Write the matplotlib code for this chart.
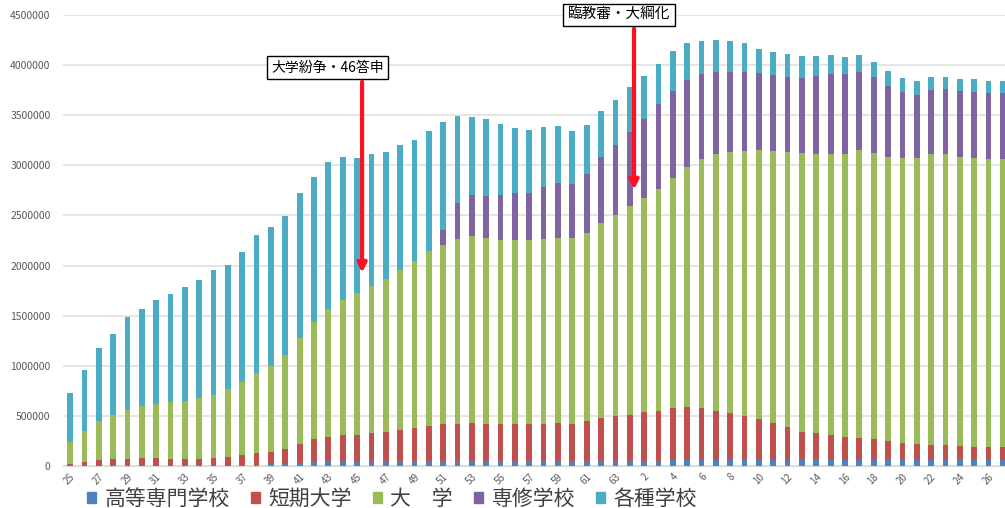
import matplotlib

matplotlib.use("Agg")
import matplotlib.pyplot as plt
import matplotlib.patches as mpatches
import numpy as np

plt.rcParams["font.family"] = ["Noto Sans CJK JP", "DejaVu Sans"]

# Year labels: Showa 25-63, then Heisei 1-27
showa = list(range(25, 64))
heisei = list(range(1, 28))
years = [str(y) for y in showa] + [str(y) for y in heisei]

# Enrollment per school type (thousands)
kosen = [0] * 12 + [
    3, 10, 16, 22, 29, 36, 42, 44, 44, 45, 46, 47, 48, 48, 48, 47, 47, 46, 46, 46,
    46, 47, 48, 48, 49, 50, 51, 52, 53, 54, 55, 56, 56, 56, 56, 56, 56, 56, 57, 57,
    57, 58, 58, 59, 59, 60, 60, 60, 60, 59, 59, 58, 58, 58,
]
tandai = [
    15, 37, 57, 67, 73, 83, 83, 73, 73, 73, 83, 93, 104, 123, 127, 148, 194, 231,
    251, 266, 266, 282, 291, 313, 332, 355, 369, 376, 386, 377, 371, 377, 377, 376,
    382, 375, 401, 433, 452, 458, 484, 499, 528, 537, 527, 497, 474, 447, 417, 377,
    330, 286, 270, 252, 235, 224, 208, 187, 173, 163, 153, 154, 144, 135, 135, 129,
]
daigaku = [
    228, 313, 393, 443, 487, 517, 537, 570, 577, 604, 627, 674, 731, 794, 850, 940,
    1050, 1166, 1274, 1350, 1417, 1466, 1533, 1600, 1667, 1740, 1790, 1844, 1860,
    1850, 1840, 1827, 1827, 1844, 1843, 1850, 1877, 1944, 2000, 2080, 2133, 2214,
    2294, 2394, 2484, 2557, 2607, 2640, 2677, 2710, 2746, 2777, 2790, 2807, 2817,
    2867, 2860, 2836, 2840, 2850, 2897, 2897, 2880, 2877, 2867, 2873,
]
senshu = [0] * 26 + [
    143, 360, 414, 420, 443, 477, 477, 520, 547, 537, 590, 656, 704, 740, 797, 843,
    866, 863, 843, 817, 798, 792, 770, 757, 750, 750, 770, 793, 800, 783, 756, 704,
    660, 627, 640, 650, 660, 663, 657, 657,
]
kakushu = [
    485, 610, 727, 810, 927, 967, 1033, 1074, 1137, 1180, 1243, 1243, 1299, 1373,
    1394, 1383, 1454, 1450, 1468, 1423, 1346, 1317, 1267, 1243, 1206, 1200, 1083,
    866, 776, 767, 717, 650, 626, 600, 577, 533, 490, 460, 446, 447, 420, 397, 394,
    367, 333, 323, 302, 282, 240, 227, 227, 217, 200, 190, 173, 167, 150, 150, 137,
    137, 133, 123, 114, 124, 123, 123,
]

series = [
    ("高等専門学校", kosen, "#4F81BD"),
    ("短期大学", tandai, "#C0504D"),
    ("大　学", daigaku, "#9BBB59"),
    ("専修学校", senshu, "#8064A2"),
    ("各種学校", kakushu, "#4BACC6"),
]

fig = plt.figure(figsize=(10.05, 5.08), dpi=100)
ax = fig.add_axes([0.0627, 0.0827, 0.9373, 0.8878])

x = np.arange(len(years))
bottom = np.zeros(len(years))
handles = []
for label, values, color in series:
    values = np.array(values) * 1000
    ax.bar(x, values, width=0.4, bottom=bottom, color=color, zorder=2)
    bottom += values
    handles.append(mpatches.Patch(color=color, label=label))

ax.set_xlim(-0.49, 65.15)
ax.set_ylim(0, 4500000)

yticks = np.arange(0, 4500001, 500000)
ax.set_yticks(yticks)
ax.set_yticklabels([str(int(v)) for v in yticks], fontsize=7.5, color="#595959")
ax.set_xticks(x[::2])
ax.set_xticklabels(
    years[::2], rotation=45, ha="right", va="top", rotation_mode="anchor",
    fontsize=7, color="#595959",
)
ax.tick_params(axis="both", length=0)
ax.tick_params(axis="y", pad=9)
ax.tick_params(axis="x", pad=4)

ax.grid(axis="y", color="#e3e3e3", linewidth=1.3, zorder=0)
for side in ["top", "right", "left"]:
    ax.spines[side].set_visible(False)
ax.spines["bottom"].set_color("#d9d9d9")

# Annotations
arrow = dict(arrowstyle="-|>", color="#ff1020", lw=3, mutation_scale=13)
ax.annotate("", xy=(20.35, 1900000), xytext=(20.35, 3860000), arrowprops=arrow)
ax.text(
    17.95, 3975000, "大学紛争・46答申", fontsize=10, ha="center", va="center",
    bbox=dict(boxstyle="square,pad=0.3", fc="white", ec="black", lw=1),
)
ax.annotate("", xy=(39.3, 2730000), xytext=(39.3, 4390000), arrowprops=arrow)
ax.text(
    38.25, 4500000, "臨教審・大綱化", fontsize=10.5, ha="center", va="center",
    bbox=dict(boxstyle="square,pad=0.3", fc="white", ec="black", lw=1),
)

fig.legend(
    handles=handles, loc="center", bbox_to_anchor=(0.39, 0.018), ncol=5,
    frameon=False, fontsize=15, handlelength=0.45, handleheight=0.45,
    handletextpad=0.4, columnspacing=1.0, labelcolor="#404040",
)

fig.savefig("out.png", dpi=100)
plt.close(fig)
